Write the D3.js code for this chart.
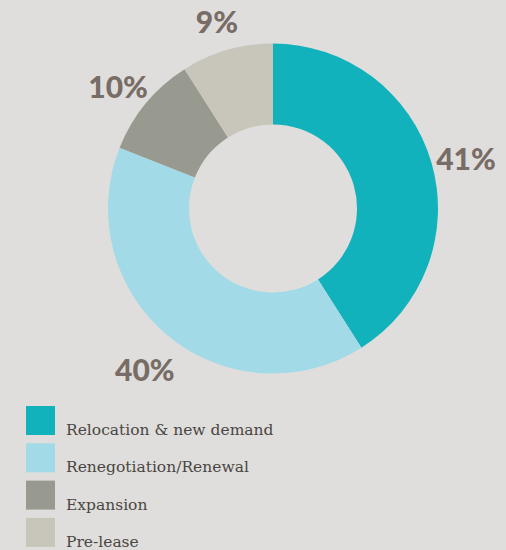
<!DOCTYPE html>
<html lang="en">
<head>
  <meta charset="UTF-8">
  <title>Demand breakdown</title>
  <script src="https://d3js.org/d3.v7.min.js"></script>
  <style>
    html, body {
      margin: 0;
      padding: 0;
      background: #dfdedc;
    }
    .pct {
      font-family: Lato, "DejaVu Sans", sans-serif;
      font-weight: 900;
      fill: #786c66;
    }
    .legend-label {
      font-family: "DejaVu Serif", serif;
      font-size: 15.5px;
      fill: #4a4643;
    }
  </style>
</head>
<body>
  <div id="chart"></div>

  <script>
    const categories = ["Relocation & new demand", "Renegotiation/Renewal", "Expansion", "Pre-lease"];
    const shares = [41, 40, 10, 9];
    const colors = ["#12b2bd", "#a2dbe7", "#999a8f", "#c8c6ba"];

    const width = 506;
    const height = 550;
    const cx = 273;
    const cy = 208.5;
    const outerR = 165;
    const innerR = 84;
    const labelR = 201;

    const svg = d3.select("#chart")
      .append("svg")
      .attr("width", width)
      .attr("height", height);

    const data = categories.map((c, i) => ({ name: c, value: shares[i], color: colors[i] }));

    const pie = d3.pie()
      .value(d => d.value)
      .sort(null);

    const arc = d3.arc()
      .innerRadius(innerR)
      .outerRadius(outerR);

    const labelArc = d3.arc()
      .innerRadius(labelR)
      .outerRadius(labelR);

    const g = svg.append("g")
      .attr("transform", `translate(${cx}, ${cy})`);

    const arcs = pie(data);

    g.selectAll("path")
      .data(arcs)
      .enter()
      .append("path")
      .attr("d", arc)
      .attr("fill", d => d.data.color);

    // percentage labels outside the ring
    g.selectAll("text.pct")
      .data(arcs)
      .enter()
      .append("text")
      .attr("class", "pct")
      .attr("text-anchor", "middle")
      .attr("dominant-baseline", "central")
      .attr("font-size", 30)
      .attr("transform", d => {
        const [x, y] = labelArc.centroid(d);
        return `translate(${x}, ${y + 6})`;
      })
      .text(d => d.data.value + "%");

    // legend
    const legend = svg.append("g")
      .attr("transform", "translate(26, 406)");

    const row = legend.selectAll("g")
      .data(data)
      .enter()
      .append("g")
      .attr("transform", (d, i) => `translate(0, ${i * 37.3})`);

    row.append("rect")
      .attr("width", 29)
      .attr("height", 29)
      .attr("fill", d => d.color);

    row.append("text")
      .attr("class", "legend-label")
      .attr("x", 40)
      .attr("y", 29)
      .text(d => d.name);
  </script>
</body>
</html>
